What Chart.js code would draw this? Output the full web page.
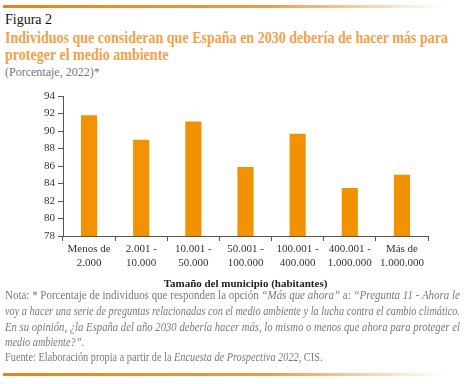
<!DOCTYPE html>
<html>
<head>
<meta charset="utf-8">
<script src="https://cdn.jsdelivr.net/npm/chart.js@4/dist/chart.umd.min.js"></script>
<style>
  body { margin: 0; width: 474px; height: 384px; background: #fff; position: relative; overflow: hidden; font-family: "Liberation Serif", serif; }
  .bar { position: absolute; left: 3px; width: 442px; height: 3px; background: linear-gradient(to right, #E8821E 0%, #EE9A45 60%, rgba(255,255,255,0) 100%); }
  .abs { position: absolute; white-space: nowrap; }
  #fig { left: 5px; top: 12px; font-size: 14px; color: #111; }
  #t1, #t2 { left: 5px; font-size: 16px; font-weight: bold; color: #F4A14B; transform-origin: left top; }
  #t1 { top: 29px; }
  #t2 { top: 46px; }
  #sub { left: 5px; top: 65px; font-size: 12px; color: #777; }
  #chartBox { position: absolute; left: 0; top: 85px; width: 474px; height: 210px; }
  .note { position: absolute; left: 5px; font-size: 12.5px; color: #7a7a7a; white-space: nowrap; transform-origin: left top; }
</style>
</head>
<body>
<div class="bar" style="top:5px"></div>
<div class="abs" id="fig">Figura 2</div>
<div class="abs" id="t1">Individuos que consideran que España en 2030 debería de hacer más para</div>
<div class="abs" id="t2">proteger el medio ambiente</div>
<div class="abs" id="sub">(Porcentaje, 2022)*</div>
<div id="chartBox"><canvas id="myChart"></canvas></div>
<div class="note full" style="top:288px">Nota: * Porcentaje de individuos que responden la opción <i>“Más que ahora”</i> a: <i>“Pregunta 11 - Ahora le</i></div>
<div class="note full" style="top:304px"><i>voy a hacer una serie de preguntas relacionadas con el medio ambiente y la lucha contra el cambio climático.</i></div>
<div class="note full" style="top:320px"><i>En su opinión, ¿la España del año 2030 debería hacer más, lo mismo o menos que ahora para proteger el</i></div>
<div class="note" style="top:335px"><i>medio ambiente?”</i>.</div>
<div class="note" style="top:350px">Fuente: Elaboración propia a partir de la <i>Encuesta de Prospectiva 2022</i>, CIS.</div>
<div class="bar" style="top:373px"></div>
<script>
// datos del gráfico
const categorias = [
    ["Menos de", "2.000"],
    ["2.001 -", "10.000"],
    ["10.001 -", "50.000"],
    ["50.001 -", "100.000"],
    ["100.001 -", "400.000"],
    ["400.001 -", "1.000.000"],
    ["Más de", "1.000.000"]
];
const porcentajes = [91.8, 89.0, 91.1, 85.9, 89.7, 83.5, 85.0];
const ejeY = { min: 78, max: 94, paso: 2 };
const tituloEjeX = "Tamaño del municipio (habitantes)";

// ajustar anchos de texto a la figura
const t1 = document.getElementById('t1');
const escala = 443 / t1.getBoundingClientRect().width;
t1.style.transform = `scaleX(${escala})`;
document.getElementById('t2').style.transform = `scaleX(${escala})`;

let escalaNota = 1;
document.querySelectorAll('.note.full').forEach(function (el) {
    const k = 455 / el.getBoundingClientRect().width;
    el.style.transform = `scaleX(${k})`;
    escalaNota = Math.min(escalaNota, k);
});
document.querySelectorAll('.note:not(.full)').forEach(function (el) {
    el.style.transform = `scaleX(${escalaNota})`;
});

const fuente = { family: "'Liberation Serif', serif", size: 11 };

new Chart(document.getElementById('myChart'), {
    type: 'bar',
    data: {
        labels: categorias,
        datasets: [{
            label: "Porcentaje",
            data: porcentajes,
            backgroundColor: '#F39200',
            borderWidth: 0,
            barPercentage: 0.31,
            categoryPercentage: 1
        }]
    },
    options: {
        responsive: true,
        maintainAspectRatio: false,
        animation: false,
        layout: { padding: { top: 11, right: 46, left: 0, bottom: 0 } },
        plugins: { legend: { display: false }, tooltip: { enabled: false } },
        scales: {
            x: {
                grid: { drawOnChartArea: false, tickLength: 5, color: '#555', offset: true },
                border: { color: '#555', width: 1 },
                ticks: { color: '#333', font: fuente, maxRotation: 0, padding: 2 },
                title: { display: true, text: tituloEjeX, color: '#222', font: { family: "'Liberation Serif', serif", size: 11, weight: 'bold' }, padding: { top: 10 } },
                afterFit: function (scale) { scale.height = 59; }
            },
            y: {
                min: ejeY.min,
                max: ejeY.max,
                grid: { drawOnChartArea: false, tickLength: 5, color: '#555' },
                border: { color: '#555', width: 1 },
                ticks: { stepSize: ejeY.paso, color: '#333', font: fuente, padding: 3 },
                afterFit: function (scale) { scale.width = 63; }
            }
        }
    }
});
</script>
</body>
</html>
